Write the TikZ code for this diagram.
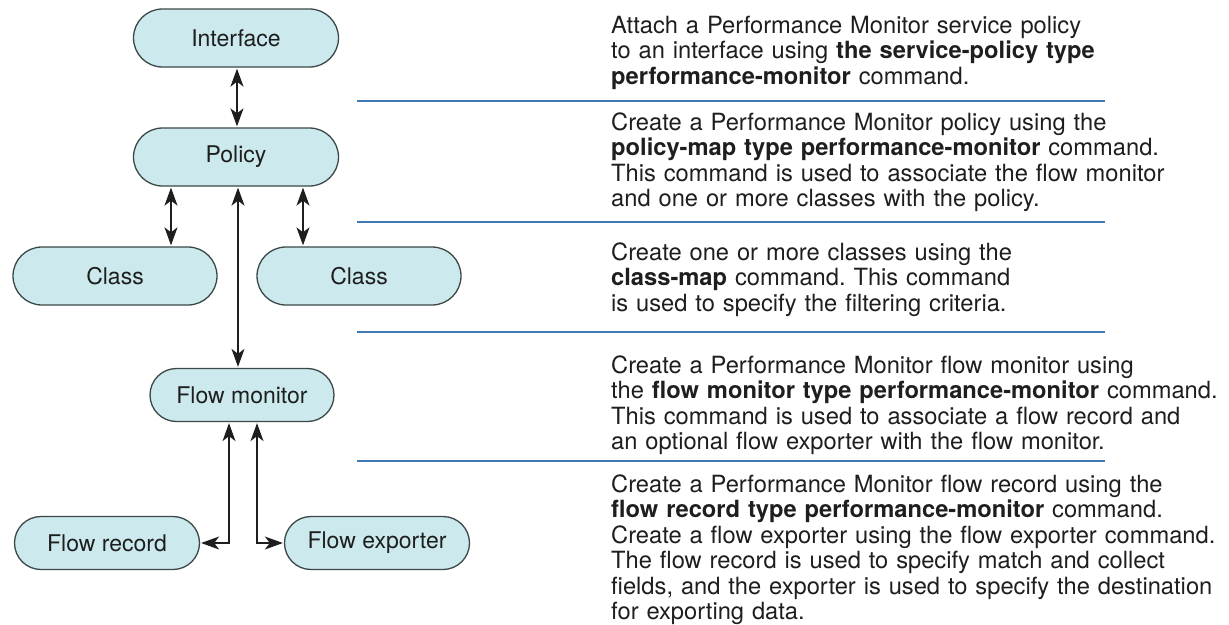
\documentclass[tikz,border=0pt]{standalone}
\usepackage{fontspec}
\setmainfont{TeX Gyre Heros}
\usetikzlibrary{shapes.misc,arrows.meta}
\definecolor{nodefill}{RGB}{204,234,238}
\definecolor{nodedraw}{RGB}{60,72,72}
\definecolor{rule}{RGB}{62,122,178}
\definecolor{txt}{RGB}{30,30,30}
\definecolor{conn}{RGB}{30,30,30}
\frenchspacing
\tikzset{
  box/.style={rounded rectangle, draw=nodedraw, fill=nodefill, line width=1.3pt,
    text=txt, font=\fontsize{23}{27}\selectfont, inner sep=0pt},
  bigbox/.style={box, minimum width=205pt, minimum height=58pt},
  smallbox/.style={box, minimum width=185pt, minimum height=53pt},
  arr/.style={draw=conn, line width=1.4pt,
    {Stealth[length=18pt,width=13pt,inset=5pt]}-{Stealth[length=18pt,width=13pt,inset=5pt]},
    shorten <=1pt, shorten >=1pt},
  sep/.style={draw=rule, line width=2pt},
  desc/.style={anchor=base west, text width=640pt, align=left, inner sep=0pt,
    text=txt, font=\fontsize{23.7}{25.5}\selectfont}
}
\begin{document}
\begin{tikzpicture}[x=1pt,y=-1pt]
\useasboundingbox (0,0) rectangle (1229,624);
\fill[white] (0,0) rectangle (1229,624);
% nodes
\node[bigbox] (iface) at (236,38) {Interface};
\node[bigbox] (policy) at (236,157) {Policy};
\node[bigbox, minimum width=204pt] (classL) at (115,276) {Class};
\node[bigbox, minimum width=204pt] (classR) at (359,276) {Class};
\node[smallbox, minimum width=184pt] (fmon) at (242,395) {Flow monitor};
\node[smallbox] (frec) at (107,543) {Flow record};
\node[smallbox] (fexp) at (377,543) {Flow exporter};
% connectors
\draw[arr] ([xshift=1pt]iface.south) -- ([xshift=1pt]policy.north);
\draw[arr] ([xshift=-65pt]policy.south) -- ([xshift=-65pt]policy.south |- classL.north);
\draw[arr] ([xshift=67pt]policy.south) -- ([xshift=67pt]policy.south |- classR.north);
\draw[arr] ([xshift=2pt]policy.south) -- ([xshift=-4pt]fmon.north);
\draw[arr] ([xshift=-13pt]fmon.south) -- ([xshift=-13pt]fmon.south |- frec.east) -- (frec.east);
\draw[arr] ([xshift=15pt]fmon.south) -- ([xshift=15pt]fmon.south |- fexp.west) -- (fexp.west);
% separator rules
\coordinate (r1a) at (357,101); \coordinate (r1b) at (1105,101);
\coordinate (r2a) at (357,222); \coordinate (r2b) at (1105,222);
\coordinate (r3a) at (357,332); \coordinate (r3b) at (1105,332);
\coordinate (r4a) at (357,461); \coordinate (r4b) at (1105,461);
\draw[sep] (r1a) -- (r1b);
\draw[sep] (r2a) -- (r2b);
\draw[sep] (r3a) -- (r3b);
\draw[sep] (r4a) -- (r4b);
% descriptions
\node[desc] (d1) at (611,33) {Attach a Performance Monitor service policy\\
to an interface using \textbf{the service-policy type}\\
\textbf{performance-monitor} command.};
\node[desc] (d2) at (611,130) {Create a Performance Monitor policy using the\\
\textbf{policy-map type performance-monitor} command.\\
This command is used to associate the flow monitor\\
and one or more classes with the policy.};
\node[desc] (d3) at (611,260) {Create one or more classes using the\\
\textbf{class-map} command. This command\\
is used to specify the filtering criteria.};
\node[desc] (d4) at (611,373) {Create a Performance Monitor flow monitor using\\
the \textbf{flow monitor type performance-monitor} command.\\
This command is used to associate a flow record and\\
an optional flow exporter with the flow monitor.};
\node[desc] (d5) at (611,492) {Create a Performance Monitor flow record using the\\
\textbf{flow record type performance-monitor} command.\\
Create a flow exporter using the flow exporter command.\\
The flow record is used to specify match and collect\\
fields, and the exporter is used to specify the destination\\
for exporting data.};
\end{tikzpicture}
\end{document}
